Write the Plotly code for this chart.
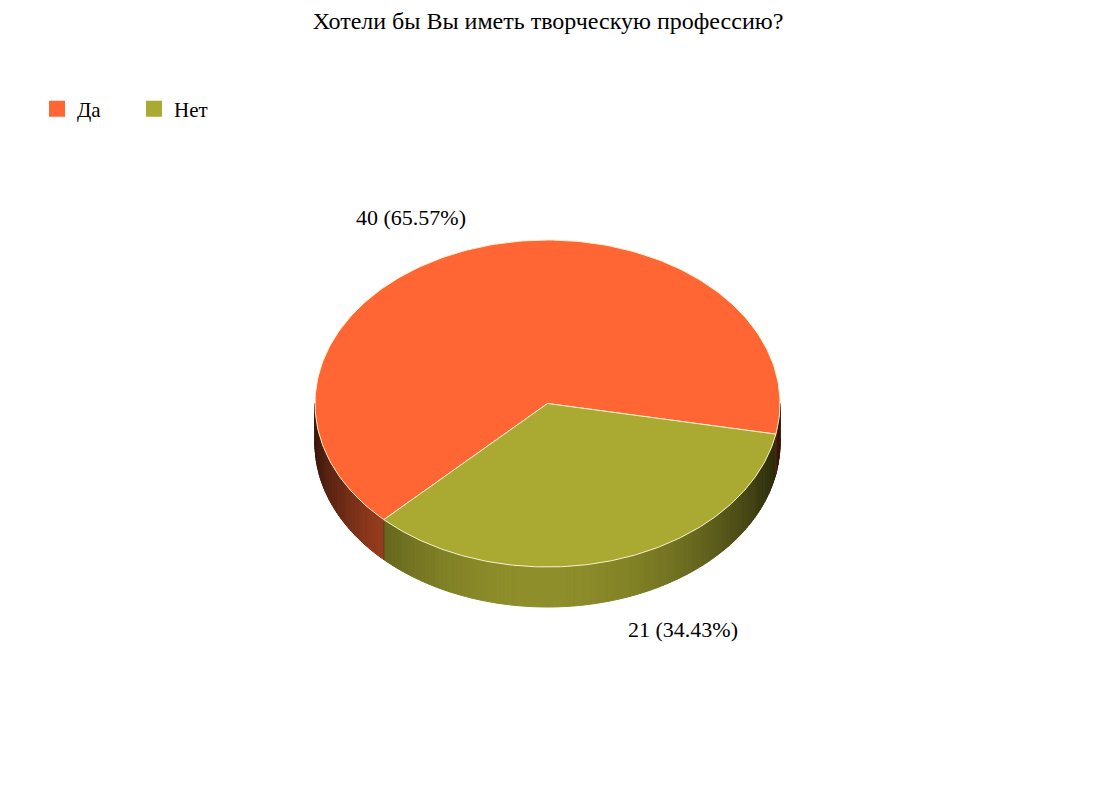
import numpy as np
import plotly.graph_objs as go

# Data ------------------------------------------------------------------------
TITLE = 'Хотели бы Вы иметь творческую профессию?'
labels = ['Да', 'Нет']
values = [40, 21]
colors = ['#FF6633', '#AAAA33']
# Geometry (pixels of the page) -----------------------------------------------
(W, H) = (1095, 805)
OFF = 8  # page body margin
(CX, CY, RX, RY, DEPTH) = (547.5, 403.5, 232.5, 163.5, 40)
START = -10.8
FONT = 'Liberation Serif'


def hex2rgb(h):
    h = h.lstrip('#')
    return [int(h[i:i+2], 16) for i in (0, 2, 4)]


def shade(h, th):
    f = 0.22 + 0.62*max(0, np.cos(np.radians(th-268)))**1.6
    return 'rgb({},{},{})'.format(*[int(c*f) for c in hex2rgb(h)])


def ell(th, dz=0):
    t = np.radians(th)
    return (CX + RX*np.cos(t), CY - RY*np.sin(t) + dz)


total = sum(values)
pcts = [v/total for v in values]
edges = START + 360*np.concatenate([[0], np.cumsum(pcts)])

fig = go.Figure()
###############################################################################
# Sides (front half only)
###############################################################################
for (i, col) in enumerate(colors):
    (a, b) = (edges[i], edges[i+1])
    for off in (-360, 0, 360):
        lo = max(a+off, 180)
        hi = min(b+off, 360)
        if hi <= lo:
            continue
        n = max(2, int((hi-lo)))
        ths = np.linspace(lo, hi, n+1)
        for (t0, t1) in zip(ths[:-1], ths[1:]):
            (x0, y0) = ell(t0)
            (x1, y1) = ell(t1)
            c = shade(col, (t0+t1)/2)
            fig.add_trace(go.Scatter(
                x=[x0, x1, x1, x0, x0], y=[y0, y1, y1+DEPTH, y0+DEPTH, y0],
                mode='lines', fill='toself', fillcolor=c,
                line=dict(color=c, width=1),
                hoverinfo='skip', showlegend=False
            ))
# Vertical edges on the side --------------------------------------------------
for e in edges:
    t = ((e % 360) + 360) % 360
    if 180 < t < 360:
        (x0, y0) = ell(t)
        fig.add_trace(go.Scatter(
            x=[x0, x0], y=[y0, y0+DEPTH], mode='lines',
            line=dict(color='rgba(90,40,20,0.7)', width=1),
            hoverinfo='skip', showlegend=False
        ))
###############################################################################
# Top face
###############################################################################
for (i, col) in enumerate(colors):
    ths = np.linspace(edges[i], edges[i+1], 200)
    pts = [ell(t) for t in ths]
    xs = [CX] + [p[0] for p in pts] + [CX]
    ys = [CY] + [p[1] for p in pts] + [CY]
    fig.add_trace(go.Scatter(
        x=xs, y=ys, mode='lines', fill='toself', fillcolor=col,
        line=dict(color='#F8F0CC', width=1),
        name=labels[i], showlegend=False,
        hovertemplate='{}: {} ({:.2f}%)<extra></extra>'.format(
            labels[i], values[i], pcts[i]*100)
    ))
# Legend entries --------------------------------------------------------------
for (i, col) in enumerate(colors):
    fig.add_trace(go.Scatter(
        x=[None], y=[None], mode='markers', name=labels[i],
        marker=dict(symbol='square', size=16, color=col)
    ))
###############################################################################
# Labels
###############################################################################
K = 1.19
for (i, v) in enumerate(values):
    mid = (edges[i] + edges[i+1])/2
    t = np.radians(mid)
    x = CX + K*RX*np.cos(t) + (2 if np.cos(t) < 0 else -3)
    y = CY - K*RY*np.sin(t)
    if np.sin(t) < 0:
        y += DEPTH
    fig.add_annotation(
        x=x, y=y, xref='x', yref='y', showarrow=False,
        text='{} ({:.2f}%)'.format(v, pcts[i]*100),
        xanchor='right' if np.cos(t) < 0 else 'left', yanchor='middle',
        font=dict(family=FONT, size=22, color='black')
    )

fig.update_layout(
    width=W, height=H,
    margin=dict(l=0, r=0, t=0, b=0),
    paper_bgcolor='white', plot_bgcolor='white',
    title=dict(
        text=TITLE, x=(548-OFF)/W, xanchor='center',
        y=1-(20.5-OFF)/H, yanchor='middle',
        font=dict(family=FONT, size=24, color='black')
    ),
    xaxis=dict(range=[OFF, W+OFF], visible=False, fixedrange=True),
    yaxis=dict(range=[H+OFF, OFF], visible=False, fixedrange=True),
    legend=dict(
        orientation='h', x=(37-OFF)/W, y=1-(109-OFF)/H,
        xanchor='left', yanchor='middle',
        font=dict(family=FONT, size=21, color='black'),
        entrywidth=52, bgcolor='rgba(0,0,0,0)'
    ),
    showlegend=True
)
fig.write_html('out.html')
